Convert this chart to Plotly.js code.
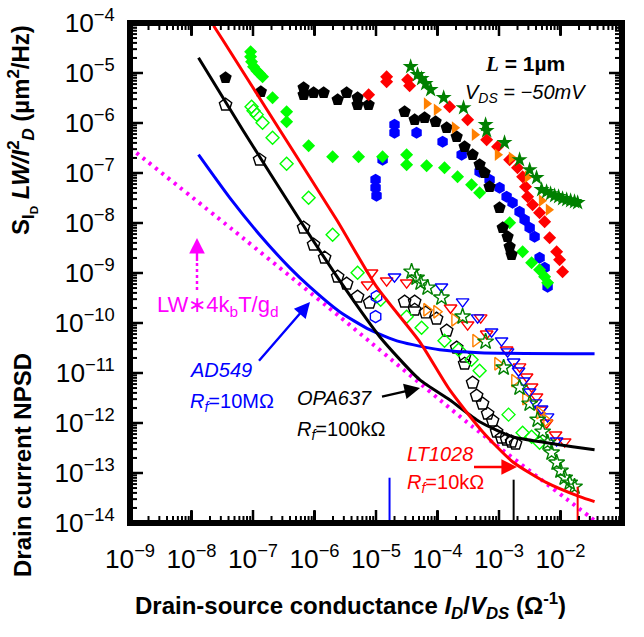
<!DOCTYPE html>
<html>
<head>
<meta charset="utf-8">
<script src="https://cdn.plot.ly/plotly-3.0.1.min.js"></script>
<style>html,body{margin:0;padding:0;background:#fff;}#chart{width:644px;height:637px;}</style>
</head>
<body>
<div id="chart"></div>
<script>
// ---- Filled (upper) series: S_I LW/I^2 vs I_D/V_DS ----
const limeFillX = [9.14e-8, 9.14e-8, 9.48e-8, 1.02e-7, 1.15e-7, 1.28e-7, 1.43e-7, 2.08e-7, 3.52e-7, 3.52e-7, 8.02e-7, 1.97e-6, 5.21e-6, 1.28e-5, 3.15e-5, 3.15e-5, 6.65e-5, 1.30e-4, 2.12e-4, 3.58e-4, 4.84e-4, 1.49e-3, 2.42e-3, 3.39e-3, 4.57e-3, 5.52e-3, 6.17e-3];
const limeFillY = [2.67e-5, 2.12e-5, 1.68e-5, 1.34e-5, 1.11e-5, 9.68e-6, 8.43e-6, 3.21e-6, 1.68e-6, 1.06e-6, 3.52e-7, 2.12e-7, 2.12e-7, 2.12e-7, 2.32e-7, 1.47e-7, 1.40e-7, 1.28e-7, 8.43e-8, 5.83e-8, 4.04e-8, 1.01e-8, 2.67e-9, 1.61e-9, 1.16e-9, 8.43e-10, 6.40e-10];

const blackFillX = [3.58e-8, 1.34e-7, 6.65e-7, 6.65e-7, 9.66e-7, 1.41e-6, 2.38e-6, 3.33e-6, 5.02e-6, 5.02e-6, 7.59e-6, 2.92e-5, 4.25e-5, 6.17e-5, 9.31e-5, 1.41e-4, 2.05e-4, 2.76e-4, 3.72e-4, 4.84e-4, 5.83e-4, 7.03e-4, 1.02e-3, 1.15e-3, 1.38e-3, 1.49e-3, 1.60e-3];
const blackFillY = [8.05e-6, 4.23e-6, 5.08e-6, 3.68e-6, 4.04e-6, 4.04e-6, 2.92e-6, 4.04e-6, 3.21e-6, 2.32e-6, 2.32e-6, 1.68e-6, 1.16e-6, 1.28e-6, 1.06e-6, 8.05e-7, 5.32e-7, 3.36e-7, 2.32e-7, 1.47e-7, 1.01e-7, 5.32e-8, 2.02e-8, 8.05e-9, 5.32e-9, 3.36e-9, 2.32e-9];

const blueFillX = [9.84e-6, 9.84e-6, 1.02e-5, 1.28e-5, 2.00e-5, 2.00e-5, 4.57e-5, 1.21e-4, 2.47e-4, 4.84e-4, 7.03e-4, 1.02e-3, 1.33e-3, 1.66e-3, 2.16e-3, 2.61e-3, 3.15e-3, 3.79e-3, 4.57e-3, 5.52e-3, 6.17e-3];
const blueFillY = [7.35e-8, 5.08e-8, 3.52e-8, 1.84e-7, 9.25e-7, 6.40e-7, 6.40e-7, 4.23e-7, 2.32e-7, 1.06e-7, 7.35e-8, 5.08e-8, 3.36e-8, 2.55e-8, 1.68e-8, 1.16e-8, 8.05e-9, 5.32e-9, 2.02e-9, 1.28e-9, 5.32e-10];

const redFillX = [7.59e-6, 1.49e-5, 1.49e-5, 3.27e-5, 3.52e-5, 1.57e-4, 3.09e-4, 6.30e-4, 9.48e-4, 1.49e-3, 2.00e-3, 2.42e-3, 2.70e-3, 2.92e-3, 3.52e-3, 4.57e-3, 5.52e-3, 6.65e-3, 8.65e-3, 9.66e-3, 1.08e-2];
const redFillY = [3.68e-6, 8.43e-6, 6.70e-6, 7.35e-6, 5.57e-6, 2.12e-6, 1.16e-6, 4.63e-7, 3.36e-7, 1.84e-7, 1.28e-7, 8.43e-8, 5.32e-8, 3.36e-8, 2.32e-8, 1.61e-8, 1.06e-8, 5.08e-9, 2.67e-9, 1.84e-9, 1.06e-9];

const orangeFillX = [6.65e-5, 9.66e-5, 1.90e-4, 4.01e-4, 9.48e-4, 1.60e-3, 2.92e-3, 4.93e-3, 6.40e-3];
const orangeFillY = [2.43e-6, 1.84e-6, 8.05e-7, 5.83e-7, 2.32e-7, 2.02e-7, 8.43e-8, 2.79e-8, 1.84e-8];

const starFillX = [3.66e-5, 4.74e-5, 5.51e-5, 6.40e-5, 7.73e-5, 1.26e-4, 2.65e-4, 6.05e-4, 6.30e-4, 1.23e-3, 2.16e-3, 3.15e-3, 4.08e-3, 4.93e-3, 5.94e-3, 6.90e-3, 8.02e-3, 9.31e-3, 1.08e-2, 1.26e-2, 1.46e-2, 1.69e-2, 1.90e-2];
const starFillY = [1.34e-5, 9.25e-6, 7.69e-6, 6.11e-6, 4.63e-6, 3.21e-6, 2.02e-6, 9.25e-7, 7.02e-7, 4.04e-7, 1.84e-7, 1.16e-7, 8.05e-8, 4.63e-8, 4.23e-8, 3.85e-8, 3.52e-8, 3.36e-8, 3.06e-8, 2.92e-8, 2.79e-8, 2.67e-8, 2.55e-8];

// ---- Open (lower) series: drain current NPSD ----
const blackOpenX = [3.58e-8, 1.28e-7, 6.65e-7, 9.66e-7, 1.46e-6, 2.38e-6, 3.33e-6, 5.02e-6, 7.87e-6, 2.92e-5, 4.25e-5, 4.25e-5, 6.40e-5, 9.66e-5, 1.41e-4, 2.05e-4, 2.76e-4, 2.76e-4, 3.72e-4, 4.33e-4, 5.41e-4, 6.53e-4, 7.87e-4, 9.14e-4, 1.10e-3, 1.33e-3, 1.60e-3, 1.86e-3];
const blackOpenY = [2.32e-6, 1.84e-7, 8.05e-9, 3.68e-9, 2.02e-9, 8.43e-10, 6.11e-10, 3.36e-10, 2.55e-10, 2.67e-10, 2.67e-10, 1.84e-10, 1.61e-10, 1.22e-10, 7.02e-11, 3.21e-11, 2.12e-11, 1.53e-11, 6.40e-12, 3.52e-12, 2.43e-12, 1.53e-12, 1.11e-12, 6.70e-13, 5.08e-13, 4.63e-13, 4.23e-13, 3.85e-13];

const limeOpenX = [9.48e-8, 1.02e-7, 1.15e-7, 1.43e-7, 2.08e-7, 3.52e-7, 8.02e-7, 1.97e-6, 5.02e-6, 1.19e-5, 3.15e-5, 5.51e-5, 1.30e-4, 2.20e-4, 3.58e-4, 4.84e-4, 1.43e-3, 2.42e-3, 3.39e-3, 4.57e-3];
const limeOpenY = [2.12e-6, 1.76e-6, 1.47e-6, 1.01e-6, 5.08e-7, 1.53e-7, 3.21e-8, 5.83e-9, 1.01e-9, 2.92e-10, 1.34e-10, 8.05e-11, 4.43e-11, 2.92e-11, 1.84e-11, 1.11e-11, 1.47e-12, 6.40e-13, 5.32e-13, 4.04e-13];

const redOpenX = [7.29e-6, 8.47e-6, 1.49e-5, 3.15e-5, 1.63e-4, 3.09e-4, 5.04e-4, 6.30e-4, 1.33e-3, 2.16e-3, 2.81e-3, 3.39e-3, 4.08e-3, 4.75e-3, 5.94e-3, 8.32e-3, 1.17e-2];
const redOpenY = [5.83e-10, 1.01e-9, 7.02e-10, 6.40e-10, 2.02e-10, 9.25e-11, 1.28e-10, 6.11e-11, 2.92e-11, 1.34e-11, 8.43e-12, 5.32e-12, 3.36e-12, 1.84e-12, 1.01e-12, 5.83e-13, 4.23e-13];

const blueOpenX = [2.00e-5, 1.16e-4, 2.56e-4, 4.49e-4, 7.57e-4, 1.10e-3, 1.38e-3, 1.73e-3, 2.08e-3, 2.51e-3, 3.15e-3, 3.94e-3, 4.93e-3, 6.17e-3, 8.65e-3];
const blueOpenY = [8.43e-10, 5.32e-10, 2.67e-10, 1.28e-10, 6.70e-11, 4.43e-11, 2.67e-11, 1.68e-11, 1.11e-11, 7.02e-12, 4.23e-12, 2.55e-12, 1.93e-12, 1.34e-12, 4.43e-13];
const blueHexOpenX = [1.02e-5, 9.84e-6];
const blueHexOpenY = [3.36e-10, 1.34e-10];

const orangeOpenX = [6.65e-5, 9.66e-5, 1.90e-4, 4.17e-4, 9.48e-4, 1.79e-3, 2.70e-3, 4.57e-3, 5.94e-3];
const orangeOpenY = [1.84e-10, 1.68e-10, 1.16e-10, 4.43e-11, 1.53e-11, 7.02e-12, 3.06e-12, 1.61e-12, 1.11e-12];

const starOpenX = [3.79e-5, 4.57e-5, 5.31e-5, 6.90e-5, 1.16e-4, 2.56e-4, 6.05e-4, 1.19e-3, 2.16e-3, 3.15e-3, 4.25e-3, 5.12e-3, 6.17e-3, 7.16e-3, 8.65e-3, 1.00e-2, 1.17e-2, 1.41e-2, 1.69e-2];
const starOpenY = [1.06e-9, 8.05e-10, 6.40e-10, 5.08e-10, 3.21e-10, 1.34e-10, 4.23e-11, 1.28e-11, 5.08e-12, 2.43e-12, 1.16e-12, 6.70e-13, 4.04e-13, 2.55e-13, 1.61e-13, 1.11e-13, 8.05e-14, 6.40e-14, 5.32e-14];

// ---- Amplifier noise floors and thermal-noise limit ----
const lt1028X = [2.29e-8, 3.21e-8, 2.71e-7, 2.29e-6, 1.02e-5, 5.12e-5, 1.57e-4, 5.41e-4, 1.66e-3, 5.94e-3, 2.05e-2, 3.58e-2];
const lt1028Y = [8.83e-5, 4.63e-5, 7.35e-7, 1.16e-8, 5.32e-10, 4.23e-11, 4.63e-12, 6.70e-13, 1.68e-13, 6.40e-14, 3.36e-14, 2.67e-14];
const opa637X = [1.30e-8, 6.78e-8, 5.73e-7, 3.08e-6, 1.15e-5, 5.12e-5, 1.57e-4, 4.84e-4, 1.66e-3, 5.94e-3, 1.57e-2, 3.58e-2];
const opa637Y = [2.02e-5, 7.35e-7, 1.16e-8, 5.08e-10, 5.32e-11, 7.35e-12, 2.92e-12, 1.06e-12, 5.32e-13, 4.04e-13, 3.36e-13, 2.92e-13];
const ad549X = [1.30e-8, 4.17e-8, 1.28e-7, 3.94e-7, 8.32e-7, 2.56e-6, 7.87e-6, 2.42e-5, 1.08e-4, 4.84e-4, 3.58e-2];
const ad549Y = [2.32e-7, 3.21e-8, 5.83e-9, 1.28e-9, 5.32e-10, 1.68e-10, 7.35e-11, 4.23e-11, 2.92e-11, 2.55e-11, 2.43e-11];
const thermalX = [1e-9, 4.66e-8, 2.56e-6, 3.72e-4, 2.97e-2, 6.0e-2];
const thermalY = [3.21e-7, 7.35e-9, 1.34e-10, 8.43e-13, 1.34e-14, 6.8e-15];

// bandwidth markers at the bottom
const blueMarkX = [1.66e-5, 1.66e-5];  const blueMarkY = [1e-14, 8.05e-14];
const blackMarkX = [1.73e-3, 1.73e-3]; const blackMarkY = [1e-14, 7.35e-14];
const redMarkX = [1.90e-2, 1.90e-2];   const redMarkY = [1e-14, 5.32e-14];

// axis decades
const xDecades = [-9, -1];
const yDecades = [-14, -4];
const minorDigits = [2, 3, 4, 5, 6, 7, 8, 9];

const FONT = 'Liberation Sans, Arial, sans-serif';
const BLACK = 'rgb(0,0,0)';
const LIME = '#00ff00', DKGREEN = '#008000', ORANGE = '#ff8000', MAG = '#ff00ff';

const L = 130, T = 23, W = 492, H = 500;
const px = v => (v - L) / W;
const py = v => (T + H - v) / H;
const xDecPx = W / (xDecades[1] - xDecades[0]);   // pixels per decade
const yDecPx = H / (yDecades[1] - yDecades[0]);

function pts(x, y, symbol, color, size, open) {
  return {x: x, y: y, type: 'scatter', mode: 'markers', hoverinfo: 'skip',
    marker: {symbol: symbol, color: color, size: size,
      line: {color: color, width: open ? 1.4 : 0}}};
}
function line(x, y, color, width, dash) {
  return {x: x, y: y, type: 'scatter', mode: 'lines', hoverinfo: 'skip',
    line: {color: color, width: width, dash: dash || 'solid', shape: 'spline', smoothing: 0.6}};
}

// frame and inside ticks on all four sides, built from the axis ranges
function frameTrace() {
  const x0 = Math.pow(10, xDecades[0]), x1 = Math.pow(10, xDecades[1]);
  const y0 = Math.pow(10, yDecades[0]), y1 = Math.pow(10, yDecades[1]);
  return {x: [x0, x1, x1, x0, x0], y: [y0, y0, y1, y1, y0], type: 'scatter', mode: 'lines',
    hoverinfo: 'skip', line: {color: BLACK, width: 6}};
}
function tickTrace(lenPx, width, minor) {
  const xs = [], ys = [];
  const lx = lenPx / xDecPx, ly = lenPx / yDecPx;
  const xLo = Math.pow(10, xDecades[0]), xHi = Math.pow(10, xDecades[1]);
  const yLo = Math.pow(10, yDecades[0]), yHi = Math.pow(10, yDecades[1]);
  const pos = (r) => {
    const out = [];
    for (let d = r[0]; d <= r[1]; d++) {
      if (!minor) out.push(d);
      else if (d < r[1]) minorDigits.forEach(k => out.push(d + Math.log10(k)));
    }
    return out;
  };
  pos(xDecades).forEach(e => {
    const v = Math.pow(10, e);
    xs.push(v, v, null, v, v, null);
    ys.push(yLo, Math.pow(10, yDecades[0] + ly), null, yHi, Math.pow(10, yDecades[1] - ly), null);
  });
  pos(yDecades).forEach(e => {
    const v = Math.pow(10, e);
    ys.push(v, v, null, v, v, null);
    xs.push(xLo, Math.pow(10, xDecades[0] + lx), null, xHi, Math.pow(10, xDecades[1] - lx), null);
  });
  return {x: xs, y: ys, type: 'scatter', mode: 'lines', hoverinfo: 'skip', connectgaps: false,
    line: {color: BLACK, width: width}};
}

const traces = [
  pts(blueFillX, blueFillY, 'hexagon', '#0000ff', 12, false),
  pts(limeFillX, limeFillY, 'diamond', LIME, 10, false),
  pts(blackFillX, blackFillY, 'pentagon', BLACK, 13, false),
  pts(redFillX, redFillY, 'diamond', '#ff0000', 10, false),
  pts(orangeFillX, orangeFillY, 'triangle-right', ORANGE, 11, false),
  pts(starFillX, starFillY, 'star', DKGREEN, 12, false),
  pts(blackOpenX, blackOpenY, 'pentagon-open', BLACK, 13, true),
  pts(limeOpenX, limeOpenY, 'diamond-open', LIME, 10, true),
  pts(redOpenX, redOpenY, 'triangle-down-open', '#ff0000', 11, true),
  pts(blueOpenX, blueOpenY, 'triangle-down-open', '#0000ff', 11, true),
  pts(blueHexOpenX, blueHexOpenY, 'hexagon-open', '#0000ff', 12, true),
  pts(orangeOpenX, orangeOpenY, 'triangle-right-open', ORANGE, 11, true),
  pts(starOpenX, starOpenY, 'star-open', DKGREEN, 12, true),
  line(thermalX, thermalY, MAG, 4, '3px,5px'),
  line(ad549X, ad549Y, '#0000ff', 3),
  line(opa637X, opa637Y, BLACK, 3),
  line(lt1028X, lt1028Y, '#ff0000', 3),
  line(blueMarkX, blueMarkY, '#0000ff', 2),
  line(blackMarkX, blackMarkY, BLACK, 2),
  line(redMarkX, redMarkY, '#ff0000', 2),
  frameTrace(),
  tickTrace(13, 2.5, false),
  tickTrace(7, 2, true)
];

function txt(text, x, y, color, size, xanchor, extra) {
  return Object.assign({text: text, x: px(x), y: py(y), xref: 'paper', yref: 'paper',
    showarrow: false, xanchor: xanchor || 'left', yanchor: 'middle',
    font: {family: FONT, size: size, color: color}}, extra || {});
}
function arrow(hx, hy, ax, ay, color) {
  return {text: ' ', x: px(hx), y: py(hy), xref: 'paper', yref: 'paper', showarrow: true,
    ax: ax, ay: ay, arrowhead: 2, arrowsize: 1.3, arrowwidth: 2.4, arrowcolor: color, standoff: 0,
    font: {size: 2}};
}

const axisCommon = {
  type: 'log', dtick: 1, showgrid: false, zeroline: false,
  showline: true, linewidth: 3, linecolor: BLACK, mirror: 'allticks',
  ticks: 'inside', ticklen: 12, tickwidth: 2.5, tickcolor: BLACK,
  exponentformat: 'power', showexponent: 'all',
  tickfont: {family: FONT, size: 21, color: BLACK}
};

const layout = {
  width: 644, height: 637,
  margin: {l: L, r: 644 - L - W, t: T, b: 637 - T - H},
  paper_bgcolor: '#ffffff', plot_bgcolor: '#ffffff',
  showlegend: false,
  xaxis: Object.assign({}, axisCommon, {range: xDecades, ticklabelstandoff: 12}),
  yaxis: Object.assign({}, axisCommon, {range: yDecades, ticklabelstandoff: 8}),
  shapes: [
    {type: 'line', xref: 'paper', yref: 'paper', x0: px(197), x1: px(197), y0: py(290), y1: py(262),
     line: {color: MAG, width: 2.5, dash: 'dot'}}
  ],
  annotations: [
    txt('<span style="font-family:Liberation Serif"><i>L</i></span> = 1µm', 525, 64, BLACK, 21, 'center', {font: {family: FONT, size: 21, color: BLACK, weight: 'bold'}}),
    txt('<i>V<sub>DS</sub> = −50mV</i>', 525, 93, BLACK, 20, 'center'),
    txt('LW∗4k<sub>b</sub>T/g<sub>d</sub>', 155, 306, MAG, 22, 'left'),
    txt('<i>AD549</i>', 188, 370, '#0000ff', 20),
    txt('<i>R<sub>f</sub></i>=10MΩ', 188, 402, '#0000ff', 20),
    txt('<i>OPA637</i>', 295, 398, BLACK, 20),
    txt('<i>R<sub>f</sub></i>=100kΩ', 295, 430, BLACK, 20),
    txt('<i>LT1028</i>', 405, 454, '#ff0000', 20),
    txt('<i>R<sub>f</sub></i>=10kΩ', 405, 483, '#ff0000', 20),
    arrow(310, 302, -53, 61, '#0000ff'),
    arrow(420, 388, -40, 9, BLACK),
    arrow(517, 467, -45, 0, '#ff0000'),
    arrow(197, 238, 0, 26, MAG),
    txt('<b>Drain-source conductance <i>I</i><sub><i>D</i></sub>/<i>V</i><sub><i>DS</i></sub> (Ω<sup>-1</sup>)</b>', 350, 606, BLACK, 24, 'center'),
    txt('<b>Drain current NPSD</b>', 22, 465, BLACK, 24, 'center', {textangle: -90}),
    txt('<b>S<sub>I<sub>D</sub></sub> <i>LW/I</i><sup>2</sup><sub><i>D</i></sub> (µm<sup>2</sup>/Hz)</b>', 22, 130, BLACK, 24, 'center', {textangle: -90})
  ]
};

Plotly.newPlot('chart', traces, layout, {displayModeBar: false, staticPlot: true});
</script>
</body>
</html>
